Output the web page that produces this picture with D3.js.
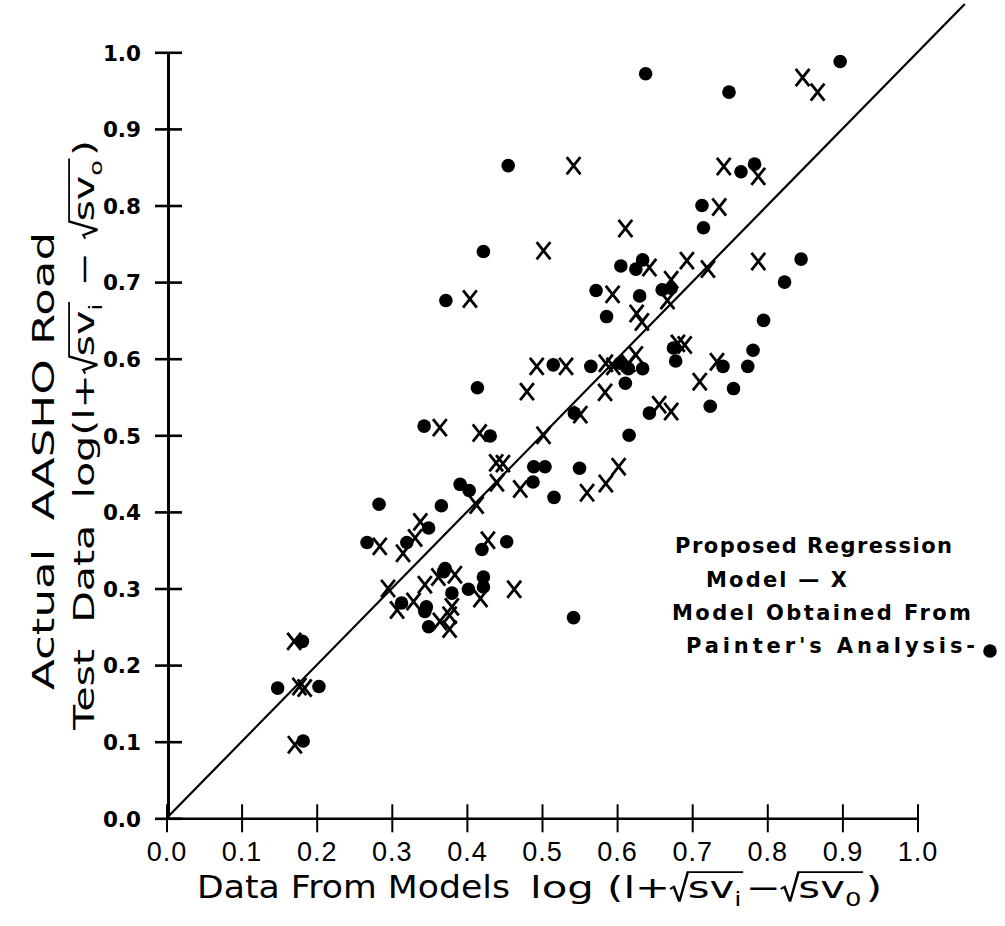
<!DOCTYPE html>
<html>
<head>
<meta charset="utf-8">
<script src="https://cdn.jsdelivr.net/npm/d3@7"></script>
<style>
  body { margin: 0; background: #fff; }
  text { white-space: pre; fill: #000; }
</style>
</head>
<body>
<svg id="chart" width="1005" height="926"></svg>
<script>
// Axis ticks
const xTicks = [0, 0.1, 0.2, 0.3, 0.4, 0.5, 0.6, 0.7, 0.8, 0.9, 1.0];
const xTickLabels = ["0.0", "0.1", "0.2", "0.3", "0.4", "0.5", "0.6", "0.7", "0.8", "0.9", "1.0"];
const yTicks = [0, 0.1, 0.2, 0.3, 0.4, 0.5, 0.6, 0.7, 0.8, 0.9, 1.0];
const yTickLabels = ["0.0", "0.1", "0.2", "0.3", "0.4", "0.5", "0.6", "0.7", "0.8", "0.9", "1.0"];

// Proposed regression model (X marks): [model value, road test value]
const regressionModel = [
  [0.542, 0.852], [0.611, 0.770], [0.502, 0.741], [0.643, 0.719], [0.404, 0.678],
  [0.594, 0.684], [0.626, 0.659], [0.633, 0.648], [0.847, 0.967], [0.867, 0.948],
  [0.742, 0.851], [0.788, 0.838], [0.736, 0.798], [0.693, 0.728], [0.721, 0.717],
  [0.788, 0.727], [0.672, 0.703], [0.667, 0.676], [0.733, 0.596], [0.710, 0.570],
  [0.681, 0.620], [0.690, 0.618], [0.672, 0.531], [0.656, 0.540], [0.493, 0.590],
  [0.532, 0.590], [0.585, 0.594], [0.595, 0.590], [0.615, 0.594], [0.625, 0.605],
  [0.584, 0.556], [0.480, 0.557], [0.551, 0.527], [0.364, 0.510], [0.417, 0.503],
  [0.502, 0.500], [0.439, 0.464], [0.448, 0.463], [0.602, 0.459], [0.585, 0.437],
  [0.560, 0.425], [0.471, 0.430], [0.440, 0.438], [0.413, 0.409], [0.338, 0.387],
  [0.331, 0.366], [0.428, 0.363], [0.284, 0.355], [0.315, 0.346], [0.344, 0.305],
  [0.362, 0.315], [0.384, 0.318], [0.329, 0.283], [0.380, 0.276], [0.364, 0.257],
  [0.377, 0.247], [0.377, 0.265], [0.418, 0.287], [0.463, 0.299], [0.295, 0.300],
  [0.307, 0.272], [0.170, 0.231], [0.177, 0.172], [0.184, 0.170], [0.171, 0.096]
];

// Model obtained from Painter's analysis (dots): [model value, road test value]
const painterModel = [
  [0.638, 0.972], [0.455, 0.852], [0.422, 0.740], [0.605, 0.721], [0.625, 0.717],
  [0.634, 0.729], [0.372, 0.676], [0.572, 0.689], [0.630, 0.682], [0.586, 0.655],
  [0.897, 0.988], [0.749, 0.948], [0.765, 0.844], [0.783, 0.854], [0.713, 0.800],
  [0.715, 0.771], [0.845, 0.730], [0.823, 0.700], [0.795, 0.650], [0.781, 0.611],
  [0.774, 0.590], [0.741, 0.590], [0.755, 0.561], [0.724, 0.538], [0.675, 0.614],
  [0.678, 0.597], [0.515, 0.592], [0.565, 0.590], [0.604, 0.594], [0.615, 0.587],
  [0.634, 0.587], [0.611, 0.568], [0.414, 0.562], [0.543, 0.529], [0.643, 0.529],
  [0.343, 0.512], [0.431, 0.499], [0.616, 0.500], [0.489, 0.459], [0.504, 0.459],
  [0.550, 0.457], [0.516, 0.419], [0.488, 0.439], [0.391, 0.436], [0.403, 0.428],
  [0.366, 0.408], [0.349, 0.379], [0.420, 0.351], [0.453, 0.361], [0.371, 0.326],
  [0.283, 0.410], [0.267, 0.360], [0.320, 0.360], [0.369, 0.322], [0.346, 0.276],
  [0.344, 0.270], [0.380, 0.294], [0.349, 0.250], [0.402, 0.299], [0.422, 0.315],
  [0.422, 0.302], [0.542, 0.262], [0.313, 0.281], [0.181, 0.231], [0.148, 0.170],
  [0.203, 0.172], [0.182, 0.101], [0.660, 0.690], [0.672, 0.692]
];

// Line of equality, drawn a little past the axis range
const equalityLine = [[0, 0], [1.063, 1.063]];

const svg = d3.select("#chart");
const x = d3.scaleLinear().domain([0, 1]).range([166.5, 917.5]);
const y = d3.scaleLinear().domain([0, 1]).range([818.3, 52.3]);

// ---- Axes ----
const yAxis = d3.axisLeft(y)
  .tickValues(yTicks)
  .tickFormat((d, i) => yTickLabels[i])
  .tickSize(0)
  .tickPadding(27);
const gy = svg.append("g").attr("transform", `translate(${x(0) + 1.5},0)`).call(yAxis);
gy.select(".domain").attr("stroke", "#000").attr("stroke-width", 3);
gy.selectAll(".tick line").attr("x1", -13).attr("x2", 14).attr("stroke", "#000").attr("stroke-width", 2.6);
gy.selectAll(".tick text")
  .attr("font-family", "'DejaVu Sans', sans-serif")
  .attr("font-weight", "bold")
  .attr("font-size", 21.5)
  .attr("dy", "0.36em");

const xAxis = d3.axisBottom(x)
  .tickValues(xTicks)
  .tickFormat((d, i) => xTickLabels[i])
  .tickSize(0)
  .tickPadding(24);
const gx = svg.append("g").attr("transform", `translate(0,${y(0)})`).call(xAxis);
gx.select(".domain").attr("stroke", "#000").attr("stroke-width", 2.4);
gx.selectAll(".tick line").attr("y1", -14).attr("y2", 14).attr("stroke", "#000").attr("stroke-width", 2);
gx.selectAll(".tick text")
  .attr("font-family", "'Liberation Sans', Arial, sans-serif")
  .attr("font-size", 27)
  .attr("letter-spacing", 1)
  .attr("dy", "0.71em");

// ---- Line of equality ----
svg.append("path")
  .datum(equalityLine)
  .attr("d", d3.line().x(d => x(d[0])).y(d => y(d[1])))
  .attr("fill", "none")
  .attr("stroke", "#000")
  .attr("stroke-width", 2.2);

// ---- Data marks ----
svg.append("g").selectAll("circle")
  .data(painterModel)
  .join("circle")
  .attr("cx", d => x(d[0]))
  .attr("cy", d => y(d[1]))
  .attr("r", 6.8)
  .attr("fill", "#000");

const crossPath = "M-6,-7.5L6,7.5M6,-7.5L-6,7.5";
svg.append("g").selectAll("path")
  .data(regressionModel)
  .join("path")
  .attr("transform", d => `translate(${x(d[0])},${y(d[1])})`)
  .attr("d", crossPath)
  .attr("fill", "none")
  .attr("stroke", "#000")
  .attr("stroke-width", 2.8)
  .attr("stroke-linecap", "square");

// ---- Text with radicals and subscripts ----
function drawRich(g, items, fs, family) {
  let cx = 0;
  const put = (t, size, dy) => {
    const el = g.append("text")
      .attr("x", cx).attr("y", dy)
      .attr("font-family", family)
      .attr("font-size", size)
      .text(t);
    cx += el.node().getComputedTextLength();
  };
  items.forEach(it => {
    if (it.root) {
      const x0 = cx;
      const rw = fs * 0.42;
      cx += rw;
      it.parts.forEach(p => put(p.t, p.sub ? fs * 0.62 : fs, p.sub ? fs * 0.28 : 0));
      cx += fs * 0.04;
      g.append("path")
        .attr("d", `M${x0},${-fs * 0.3}L${x0 + fs * 0.09},${-fs * 0.37}L${x0 + fs * 0.22},${fs * 0.12}L${x0 + rw},${-fs * 0.86}H${cx}`)
        .attr("fill", "none")
        .attr("stroke", "#000")
        .attr("stroke-width", fs * 0.06);
      cx += fs * 0.06;
    } else {
      put(it.t, fs, 0);
    }
  });
  return cx;
}

const titleFont = "'DejaVu Sans', sans-serif";

// X axis title
svg.append("text")
  .attr("x", 197).attr("y", 898)
  .attr("font-family", titleFont)
  .attr("font-size", 32)
  .attr("textLength", 313)
  .attr("lengthAdjust", "spacingAndGlyphs")
  .text("Data From Models");

const xFormula = svg.append("g");
const xw = drawRich(xFormula, [
  { t: "log (l+" },
  { root: true, parts: [{ t: "sv" }, { t: "i", sub: true }] },
  { t: "−" },
  { root: true, parts: [{ t: "sv" }, { t: "0", sub: true }] },
  { t: ")" }
], 30, titleFont);
xFormula.attr("transform", `translate(530,898) scale(${352 / xw},1)`);

// Y axis title, first line
svg.append("text")
  .attr("transform", "translate(54,690) rotate(-90)")
  .attr("font-family", titleFont)
  .attr("font-size", 30)
  .attr("textLength", 458)
  .attr("lengthAdjust", "spacingAndGlyphs")
  .text("Actual  AASHO Road");

// Y axis title, second line
const yLine2 = svg.append("g");
const yInner = yLine2.append("g");
const yw = drawRich(yInner, [
  { t: "Test  Data  log(l+" },
  { root: true, parts: [{ t: "sv" }, { t: "i", sub: true }] },
  { t: " − " },
  { root: true, parts: [{ t: "sv" }, { t: "o", sub: true }] },
  { t: ")" }
], 29, titleFont);
yInner.attr("transform", `scale(${590 / yw},1)`);
yLine2.attr("transform", "translate(94,730) rotate(-90)");

// ---- Legend ----
const legendFont = "'DejaVu Sans', sans-serif";
const legendLines = [
  { t: "Proposed Regression", x: 675, y: 553, len: 277 },
  { t: "Model — X", x: 706, y: 587, len: 141 },
  { t: "Model Obtained From", x: 672, y: 620, len: 299 },
  { t: "Painter's Analysis-", x: 686, y: 653, len: 289 }
];
svg.append("g").selectAll("text")
  .data(legendLines)
  .join("text")
  .attr("x", d => d.x).attr("y", d => d.y)
  .attr("font-family", legendFont)
  .attr("font-weight", "bold")
  .attr("font-size", 21)
  .attr("textLength", d => d.len)
  .attr("lengthAdjust", "spacing")
  .text(d => d.t);
svg.append("circle").attr("cx", 990).attr("cy", 651).attr("r", 6.8).attr("fill", "#000");
</script>
</body>
</html>
